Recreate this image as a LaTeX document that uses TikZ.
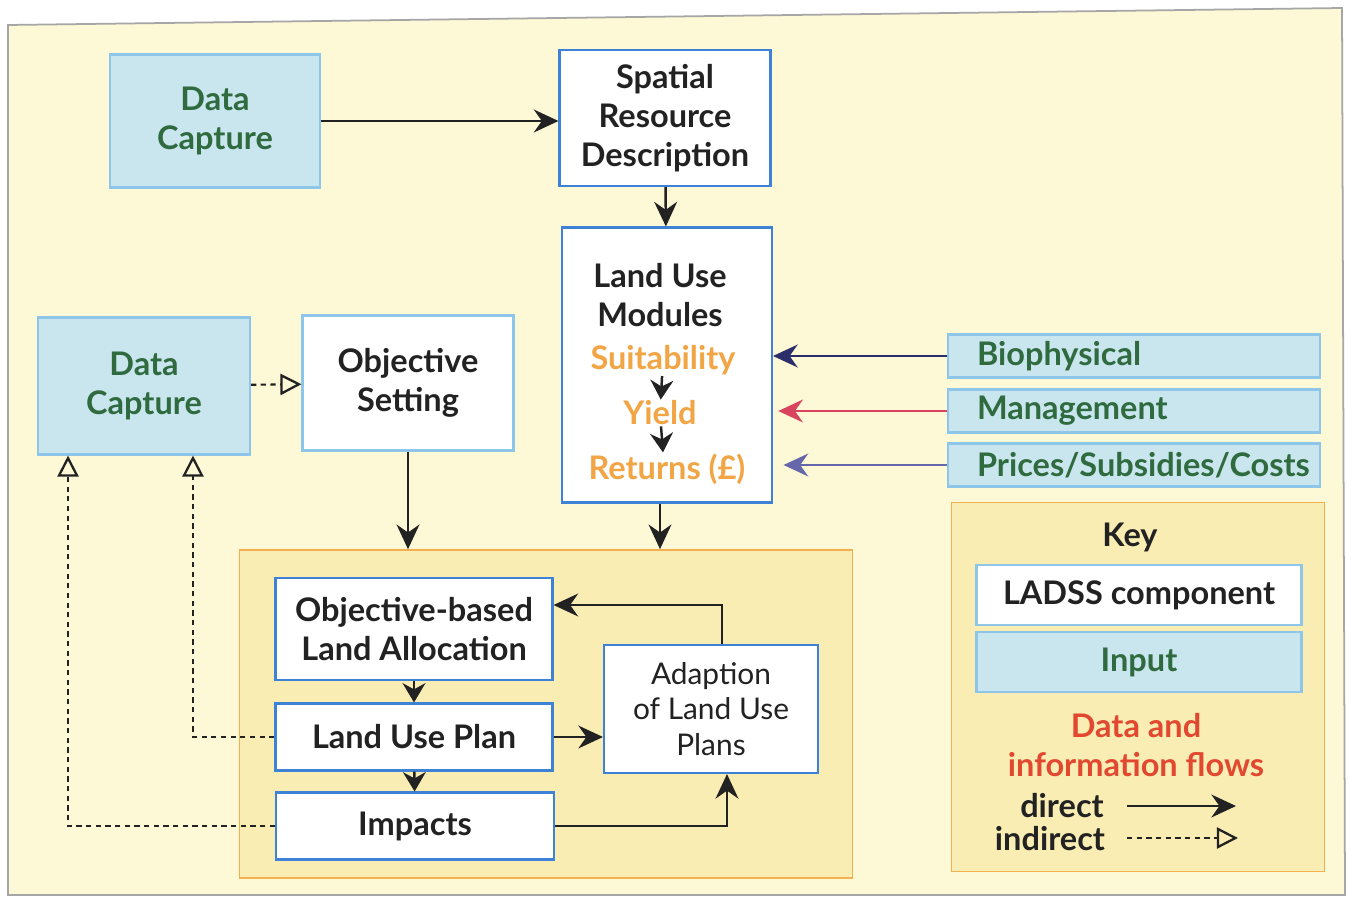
\documentclass[tikz,border=0pt]{standalone}
\usepackage{fontspec}
\setmainfont{Lato}
\usetikzlibrary{arrows.meta,positioning}
\definecolor{cream}{HTML}{FDF8D6}
\definecolor{panelfill}{HTML}{F9EDB4}
\definecolor{panelline}{HTML}{F2B14E}
\definecolor{inputfill}{HTML}{C9E6EE}
\definecolor{inputline}{HTML}{8DC6E8}
\definecolor{compline}{HTML}{3D82D6}
\definecolor{inputtext}{HTML}{2F6B3F}
\definecolor{modtext}{HTML}{F2A545}
\definecolor{flowtext}{HTML}{E2482F}
\definecolor{bioline}{HTML}{2B2E6B}
\definecolor{mgmtline}{HTML}{D8435E}
\definecolor{priceline}{HTML}{6667AA}
\definecolor{ink}{HTML}{222222}

\begin{document}
\begin{tikzpicture}[x=0.02cm,y=-0.02cm,
    txt/.style={font=\fontsize{18.5}{22}\selectfont\bfseries,text=ink,align=center},
    component/.style={txt,draw=compline,line width=1.2pt,fill=white,inner sep=0pt},
    lightcomp/.style={component,draw=inputline},
    inputbox/.style={txt,draw=inputline,line width=1.2pt,fill=inputfill,text=inputtext,inner sep=0pt},
    sidebox/.style={inputbox,align=left,text width=6.28cm,inner xsep=0.58cm},
    panel/.style={draw=panelline,line width=1pt,fill=panelfill},
    module/.style={txt,text=modtext,inner sep=0.5pt},
    direct/.style={-{Stealth[length=14pt,width=13pt]},line width=1.4pt,draw=ink},
    small/.style={-{Stealth[length=11pt,width=13pt]}},
    indirect/.style={-{Triangle[open,length=12pt,width=12pt,line width=1.3pt]},line width=1.2pt,dash pattern=on 3pt off 2.5pt,draw=ink}]
  \useasboundingbox (0,0) rectangle (1352,898);
  \fill[white] (0,0) rectangle (1352,898);
  \draw[gray!70,fill=cream,line width=1pt] (8,25) -- (1342,8) -- (1345,895) -- (8,895) -- cycle;

  % panels
  \node[panel,minimum width=12.26cm,minimum height=6.56cm] (plan) at (546,714) {};
  \node[panel,minimum width=7.46cm,minimum height=7.38cm] (key) at (1138,687) {};

  % top row
  \node[inputbox,minimum width=4.2cm,minimum height=2.66cm] (dcap1) at (215,121) {Data\\Capture};
  \node[component,minimum width=4.22cm,minimum height=2.72cm] (srd) at (665,118) {Spatial\\Resource\\Description};

  % land use modules
  \node[component,minimum width=4.2cm,minimum height=5.5cm] (lum) at (667,365) {};
  \node[txt] (lumtitle) at (660,295) {Land Use\\Modules};
  \node[module] (suit) at (663,360) {Suitability};
  \node[module] (yield) at (660,413) {Yield};
  \node[module] (ret) at (667,469) {Returns (£)};

  % inputs on the right
  \node[sidebox,minimum width=7.44cm,minimum height=0.86cm] (bio) at (1134,356) {Biophysical};
  \node[sidebox,minimum width=7.44cm,minimum height=0.86cm] (mgmt) at (1134,411) {Management};
  \node[sidebox,minimum width=7.44cm,minimum height=0.86cm] (price) at (1134,465) {Prices/Subsidies/Costs};

  % left middle
  \node[inputbox,minimum width=4.24cm,minimum height=2.74cm] (dcap2) at (144,386) {Data\\Capture};
  \node[lightcomp,minimum width=4.22cm,minimum height=2.7cm] (objset) at (408,383) {Objective\\Setting};

  % plan panel
  \node[component,minimum width=5.54cm,minimum height=2.04cm] (obla) at (414,629) {Objective-based\\Land Allocation};
  \node[component,minimum width=5.54cm,minimum height=1.34cm] (lup) at (414,737) {Land Use Plan};
  \node[component,minimum width=5.56cm,minimum height=1.34cm] (imp) at (415,826) {Impacts};
  \node[component,minimum width=4.28cm,minimum height=2.56cm,font=\fontsize{17}{20}\selectfont] (adapt) at (711,709) {Adaption\\of Land Use\\Plans};

  % key
  \node[txt] (keytitle) at (1130,537) {Key};
  \node[component,draw=inputline,minimum width=6.5cm,minimum height=1.2cm] (keycomp) at (1139,595) {LADSS component};
  \node[inputbox,minimum width=6.5cm,minimum height=1.2cm] (keyinput) at (1139,662) {Input};
  \node[txt,text=flowtext] (keyflow) at (1136,745) {Data and\\information flows};
  \node[txt] (keydirect) at (1062,806) {direct};
  \node[txt] (keyindirect) at (1050,839) {indirect};
  \coordinate (dstart) at (1127,806);
  \coordinate (dend) at (1236,806);
  \coordinate (istart) at (1127,838);
  \coordinate (iend) at (1238,838);

  % flows
  \draw[direct] (dcap1) -- (srd.west |- dcap1);
  \draw[direct] (srd) -- (lum);
  \draw[direct,small] (suit) -- (yield);
  \draw[direct,small] (yield) -- (suit |- ret.north);
  \draw[direct,draw=bioline] (bio.west) -- (bio.west -| lum.east);
  \draw[direct,draw=mgmtline] (mgmt.west) -- ([xshift=3pt]mgmt.west -| lum.east);
  \draw[direct,draw=priceline] (price.west) -- ([xshift=6pt]price.west -| lum.east);
  \draw[indirect] (dcap2) -- (objset);
  \draw[direct] (objset.south) -- (objset.south |- plan.north);
  \draw[direct] (lum.south -| lumtitle) -- (lumtitle |- plan.north);
  \draw[direct,small] (obla) -- (lup);
  \draw[direct,small] (lup) -- (imp);
  \draw[direct] (lup) -- (adapt.west |- lup);
  \draw[direct] (imp.east) -| ([xshift=0.32cm]adapt.south);
  \draw[direct] ([xshift=0.22cm]adapt.north) |- ([yshift=0.48cm]obla.east);
  \draw[indirect] (lup.west) -| ([xshift=0.98cm]dcap2.south);
  \draw[indirect] (imp.west) -| ([xshift=-1.52cm]dcap2.south);
  \draw[direct] (dstart) -- (dend);
  \draw[indirect] (istart) -- (iend);
\end{tikzpicture}
\end{document}
